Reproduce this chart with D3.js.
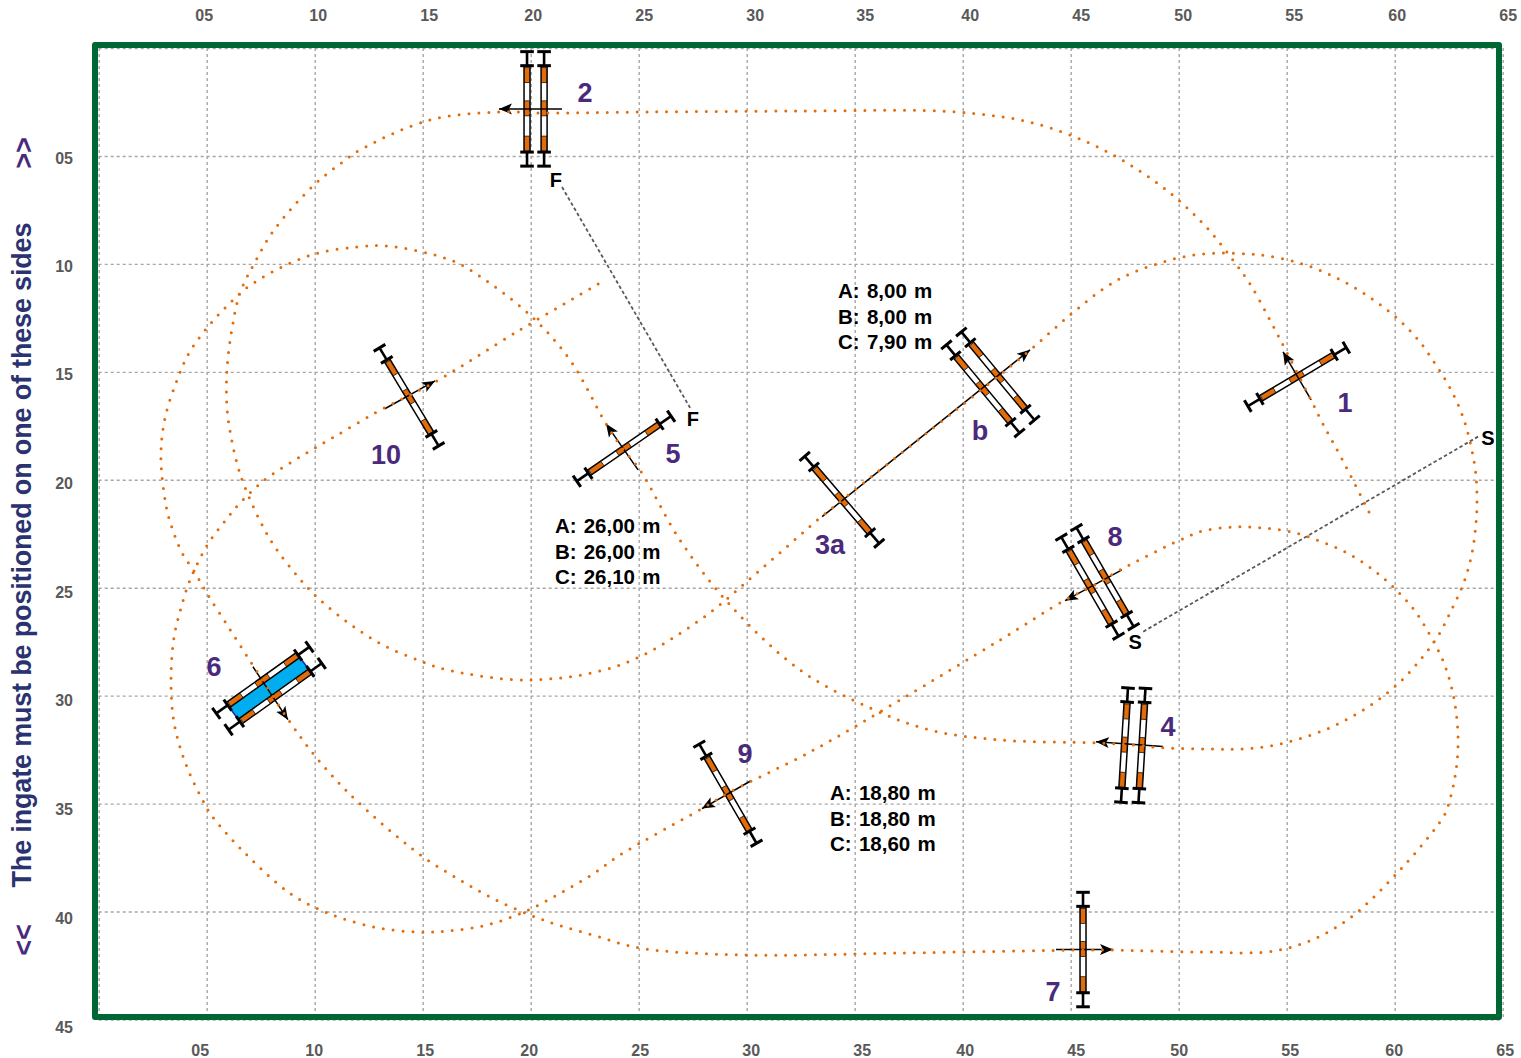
<!DOCTYPE html>
<html>
<head>
<meta charset="utf-8">
<title>Course plan</title>
<script src="https://cdn.jsdelivr.net/npm/d3@7/dist/d3.min.js"></script>
<style>
	html, body { margin: 0; padding: 0; background: #fff; }
	svg { display: block; }
	text { font-family: "Liberation Sans", Arial, sans-serif; font-weight: bold; }
	.ruler text { fill: #595959; font-size: 16px; }
	.ruler path, .ruler line { display: none; }
	.grid line { stroke: #a6a6a6; stroke-width: 1.4; stroke-dasharray: 3 3; }
	.grid path { display: none; }
</style>
</head>
<body>
<svg class="chart" width="1521" height="1058"></svg>
<script>
var xTicks = [ 5, 10, 15, 20, 25, 30, 35, 40, 45, 50, 55, 60, 65 ];
var yTicks = [ 5, 10, 15, 20, 25, 30, 35, 40, 45 ];

var track = [
	[58.81,21.49],[57.56,19.04],[56.68,17.42],[56.08,16.21],[55.02,14.13],[54.18,12.51],[53.30,10.93],[52.51,9.82],
	[51.36,8.38],[50.39,7.41],[49.37,6.53],[48.26,5.74],[47.05,5.00],[45.85,4.40],[44.60,3.89],[43.25,3.47],
	[41.91,3.20],[38.95,2.92],[32.47,2.92],[25.52,2.96],[20.43,3.01],[18.58,2.96],[15.34,3.33],[12.10,4.72],
	[11.36,5.23],[9.92,6.39],[8.12,8.43],[7.19,10.00],[6.54,11.35],[6.17,13.02],[5.94,14.87],[5.94,16.67],
	[6.13,18.02],[6.45,19.41],[6.73,20.24],[7.47,21.91],[8.16,23.11],[9.27,24.55],[10.20,25.52],[11.63,26.68],
	[13.16,27.65],[14.88,28.39],[16.17,28.81],[19.97,29.27],[24.13,28.58],[27.84,26.49],[30.62,24.18],[33.39,21.77],
	[34.41,20.94],[41.26,15.52],[43.12,13.99],[44.97,12.37],[46.63,11.07],[47.84,10.42],[49.13,9.96],[50.43,9.63],
	[51.82,9.50],[53.17,9.54],[54.09,9.63],[55.43,9.91],[56.73,10.38],[57.93,10.98],[59.09,11.72],[60.15,12.55],
	[61.13,13.57],[61.91,14.68],[62.61,15.84],[63.16,17.09],[63.53,18.43],[63.76,19.78],[63.81,21.12],[63.76,22.05],
	[63.58,23.39],[63.21,24.73],[62.65,25.98],[62.01,27.23],[61.22,28.30],[60.29,29.32],[59.23,30.20],[58.07,30.94],
	[56.87,31.54],[55.57,32.00],[54.23,32.33],[52.89,32.47],[51.50,32.47],[49.37,32.42],[47.88,32.28],[46.22,32.19],
	[41.73,32.05],[38.49,31.59],[35.71,30.57],[32.47,28.81],[29.23,25.80],[26.91,22.79],[25.06,19.55],[24.23,18.53],
	[23.49,17.41],[21.82,14.45],[19.97,12.37],[17.19,10.28],[16.03,9.73],[13.35,9.17],[11.96,9.22],[10.15,9.50],
	[8.49,10.14],[6.91,11.07],[5.89,12.00],[4.97,13.02],[4.18,14.13],[3.63,15.38],[3.07,17.14],[2.88,18.94],
	[3.12,21.21],[3.35,22.09],[3.86,23.39],[4.41,24.22],[5.06,25.34],[6.03,26.86],[6.77,28.02],[7.28,28.81],
	[8.76,31.08],[9.83,32.56],[11.03,33.95],[12.00,34.92],[13.72,36.45],[15.15,37.56],[16.73,38.54],[18.30,39.42],
	[19.97,40.16],[21.26,40.62],[23.02,41.13],[25.06,41.69],[29.69,42.01],[37.10,41.92],[45.57,41.78],[46.96,41.78],
	[50.99,41.87],[54.69,41.78],[57.47,40.62],[60.25,38.07],[62.28,35.57],[62.47,35.11],[62.79,33.77],[62.93,32.42],
	[62.88,31.08],[62.65,29.69],[62.24,28.39],[61.63,27.19],[60.90,26.03],[59.97,25.01],[58.95,24.13],[57.79,23.39],
	[56.54,22.84],[55.25,22.42],[53.86,22.23],[52.51,22.19],[51.12,22.37],[50.06,22.79],[47.28,24.18],[46.12,24.87],
	[44.74,25.57],[41.73,27.42],[37.10,30.20],[32.93,32.61],[29.13,34.51],[27.98,35.20],[24.13,37.38],[22.88,38.26],
	[21.31,39.18],[19.69,40.02],[17.98,40.62],[16.17,40.90],[14.78,40.95],[12.98,40.76],[11.22,40.30],[9.97,39.79],
	[8.76,39.09],[6.77,37.29],[5.24,35.57],[4.78,34.78],[4.18,33.53],[3.72,32.24],[3.44,30.94],[3.35,29.09],
	[3.49,27.28],[3.81,25.94],[4.23,24.64],[5.06,22.97],[5.85,21.91],[6.45,21.17],[7.10,20.52],[7.79,19.92],
	[9.32,18.94],[10.89,18.02],[12.88,16.86],[14.41,16.07],[15.57,15.47],[19.50,13.06],[23.21,10.88]
];

// one entry per rail, so an oxer has two
var fenceAngles = [ -30.7, 90, 49.4, 50.3, 93.5, -34.6, -35.5, 90, 60, 60, 58.9 ];
var fenceRails = [
	[[55.48,15.23]],
	[[19.83,2.82],[20.62,2.82]],
	[[34.41,20.93]],
	[[40.94,15.79],[41.63,15.19]],
	[[47.49,32.29],[48.30,32.31]],
	[[24.32,18.56]],
	[[7.60,29.28],[8.17,30.04]],
	[[45.57,41.76]],
	[[45.89,24.95],[46.59,24.51]],
	[[29.13,34.54]],
	[[14.37,16.16]]
];
var waterFence = 6;

var arrows = [
	[56.13,16.30,54.83,14.07],
	[21.45,2.82,18.53,2.82],
	[33.49,21.71,43.12,13.98],
	[49.27,32.36,46.17,32.13],
	[24.97,19.54,23.49,17.41],
	[7.14,28.66,8.76,31.11],
	[44.32,41.76,46.96,41.76],
	[47.37,24.17,44.74,25.60],
	[30.20,33.94,27.93,35.23],
	[13.25,16.71,15.57,15.42]
];

var fenceNames = [ "1", "2", "3a", "b", "4", "5", "6", "7", "8", "9", "10" ];
var nameSpots = [
	[57.70,16.39],[22.51,2.04],[33.86,23.00],[40.80,17.73],[49.50,31.44],[26.59,18.75],
	[5.34,28.66],[44.18,43.70],[47.05,22.64],[29.92,32.69],[13.30,18.84]
];

var distanceLines = [
	[ "A: 8,00 m", "B: 8,00 m", "C: 7,90 m" ],
	[ "A: 26,00 m", "B: 26,00 m", "C: 26,10 m" ],
	[ "A: 18,80 m", "B: 18,80 m", "C: 18,60 m" ]
];
var distanceSpots = [ [34.23,11.25], [21.12,22.13], [33.86,34.49] ];

var gateLines = [ [21.45,6.44,27.38,16.67], [63.86,18.00,48.35,27.04] ];
var gateLetters = [ "F", "F", "S", "S" ];
var gateSpots = [ [21.17,6.11], [27.51,17.18], [64.32,18.06], [47.98,27.50] ];

// the ruler labels of the plan do not sit quite on the grid
var topNudge = [ -3, 3, 6, 2, 5, 8, 10, 7, 10, 4, 7, 2, 5 ];
var bottomNudge = [ -7, -1, 2, -2, 1, 4, 7, 2, 5, 0, 3, -1, 2 ];
var leftNudge = [ 2, 2, 3, 4, 5, 5, 6, 7, 8 ];

var WIDTH = 1521, HEIGHT = 1058;
var POLE = 2, STAND = 2.65;
var ORANGE = "#e36c0a", PURPLE = "#4b2a7b", GREEN = "#006633";

var x = d3.scaleLinear().domain([ 0, 65 ]).range([ 98.7, 1502.7 ]);
var y = d3.scaleLinear().domain([ 0, 45 ]).range([ 48, 1019.5 ]);
var pad = d3.format("02d");
var metre = x(1) - x(0);

var svg = d3.select(".chart");

// grid
svg.append("g").attr("class", "grid").attr("transform", "translate(0," + y(0) + ")")
	.call( d3.axisBottom(x).tickValues([ 0 ].concat(xTicks)).tickSize(y(45) - y(0)).tickFormat("") );
svg.append("g").attr("class", "grid").attr("transform", "translate(" + x(0) + ",0)")
	.call( d3.axisRight(y).tickValues([ 0 ].concat(yTicks)).tickSize(x(65) - x(0)).tickFormat("") );

// rulers
function ruler( axis, place, attr, nudge ) {
	var g = svg.append("g").attr("class", "ruler").attr("transform", place).call( axis.tickFormat(pad).tickPadding(0) );
	g.selectAll("text").attr( attr, (d, i) => nudge[i] );
	return g;
}
ruler( d3.axisTop(x).tickValues(xTicks), "translate(0,27)", "dx", topNudge );
ruler( d3.axisBottom(x).tickValues(xTicks), "translate(0,1044)", "dx", bottomNudge ).selectAll("text").attr("y", 0).attr("dy", "0.75em");
ruler( d3.axisLeft(y).tickValues(yTicks), "translate(79,0)", "y", leftNudge );

// frame
svg.append("rect").attr("x", 95).attr("y", 45).attr("width", 1404).attr("height", 972)
	.attr("fill", "none").attr("stroke", GREEN).attr("stroke-width", 6).attr("stroke-linejoin", "round");

// start and finish lines
svg.append("g").selectAll("line").data(gateLines).enter().append("line")
	.attr("x1", d => x(d[0])).attr("y1", d => y(d[1])).attr("x2", d => x(d[2])).attr("y2", d => y(d[3]))
	.attr("stroke", "#595959").attr("stroke-width", 1.8).attr("stroke-dasharray", "3.5 2.5");

// water under fence 6
var rails = fenceRails[waterFence], rad = fenceAngles[waterFence] * Math.PI / 180;
var ux = Math.cos(rad) * POLE * metre, uy = Math.sin(rad) * POLE * metre;
var corners = [
	[ x(rails[0][0]) - ux, y(rails[0][1]) - uy ],
	[ x(rails[0][0]) + ux, y(rails[0][1]) + uy ],
	[ x(rails[1][0]) + ux, y(rails[1][1]) + uy ],
	[ x(rails[1][0]) - ux, y(rails[1][1]) - uy ]
];
svg.append("polygon").attr("points", corners.join(" ")).attr("fill", "#00aeef").attr("stroke", "#1f2f9c").attr("stroke-width", 1.6);

// fences
var railData = [];
fenceRails.forEach( (list, i) => list.forEach( r => railData.push({ x: r[0], y: r[1], angle: fenceAngles[i] }) ) );

var fences = svg.append("g").selectAll("g").data(railData).enter().append("g")
	.attr("transform", d => "translate(" + x(d.x) + "," + y(d.y) + ") rotate(" + d.angle + ")");

var poleLen = POLE * metre, standLen = STAND * metre;
fences.append("line").attr("x1", -standLen).attr("x2", standLen).attr("stroke", "#000").attr("stroke-width", 2.6);
fences.append("rect").attr("x", -poleLen).attr("y", -3).attr("width", poleLen * 2).attr("height", 6)
	.attr("fill", "#fff").attr("stroke", "#000").attr("stroke-width", 1.5);
[ -poleLen + 2, -8, poleLen - 16 ].forEach( start => {
	fences.append("rect").attr("x", start).attr("y", -2.6).attr("width", 15).attr("height", 5.2)
		.attr("fill", ORANGE).attr("stroke", "#000").attr("stroke-width", 0.7);
});
[ -standLen, -poleLen, poleLen, standLen ].forEach( at => {
	fences.append("line").attr("x1", at).attr("x2", at).attr("y1", -6.8).attr("y2", 6.8)
		.attr("stroke", "#000").attr("stroke-width", 3);
});

// jumping direction
svg.append("marker").attr("id", "head").attr("markerUnits", "userSpaceOnUse")
	.attr("viewBox", "0 -6 14 12").attr("refX", 13).attr("refY", 0)
	.attr("markerWidth", 14).attr("markerHeight", 12).attr("orient", "auto")
	.append("path").attr("d", "M0,-5.5L13,0L0,5.5L3,0Z").attr("fill", "#000");

svg.append("g").selectAll("line").data(arrows).enter().append("line")
	.attr("x1", d => x(d[0])).attr("y1", d => y(d[1])).attr("x2", d => x(d[2])).attr("y2", d => y(d[3]))
	.attr("stroke", "#000").attr("stroke-width", 1.5).attr("marker-end", "url(#head)");

// the track
var line = d3.line().x( d => x(d[0]) ).y( d => y(d[1]) ).curve(d3.curveCatmullRom.alpha(0.5));
svg.append("path").attr("d", line(track)).attr("fill", "none").attr("stroke", ORANGE)
	.attr("stroke-width", 3).attr("stroke-linecap", "round").attr("stroke-dasharray", "0 9.9");

// fence numbers
svg.append("g").selectAll("text").data(fenceNames).enter().append("text")
	.attr("x", (d, i) => x(nameSpots[i][0])).attr("y", (d, i) => y(nameSpots[i][1]))
	.attr("text-anchor", "middle").attr("dy", "0.36em")
	.attr("fill", PURPLE).attr("font-size", 27).text( d => d );

// distances
distanceLines.forEach( (lines, i) => {
	svg.append("g").selectAll("text").data(lines).enter().append("text")
		.attr("x", x(distanceSpots[i][0])).attr("y", (d, j) => y(distanceSpots[i][1]) + j * 25.6)
		.attr("dy", "0.36em").attr("fill", "#000").attr("font-size", 20.5).attr("word-spacing", 1.5).text( d => d );
});

// F and S
svg.append("g").selectAll("text").data(gateLetters).enter().append("text")
	.attr("x", (d, i) => x(gateSpots[i][0])).attr("y", (d, i) => y(gateSpots[i][1]))
	.attr("text-anchor", "middle").attr("dy", "0.36em").attr("fill", "#000").attr("font-size", 20).text( d => d );

// ingate note down the left side
svg.append("text").attr("transform", "translate(31,555) rotate(-90)").attr("text-anchor", "middle")
	.attr("fill", "#2a3370").attr("font-size", 27).attr("textLength", 665).text("The ingate must be positioned on one of these sides");
svg.append("text").attr("transform", "translate(33,153) rotate(-90)").attr("text-anchor", "middle")
	.attr("fill", PURPLE).attr("font-size", 27).text(">>");
svg.append("text").attr("transform", "translate(33,940) rotate(-90)").attr("text-anchor", "middle")
	.attr("fill", PURPLE).attr("font-size", 27).text("<<");
</script>
</body>
</html>
